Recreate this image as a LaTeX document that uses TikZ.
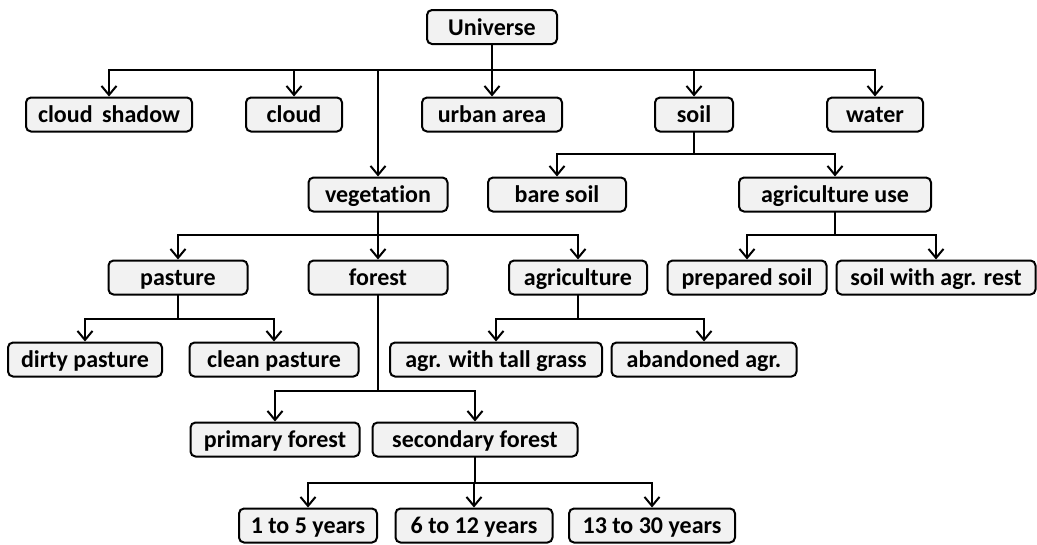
\documentclass[tikz,border=0pt]{standalone}
\usepackage{fontspec}
\setmainfont{Carlito}[Ligatures={NoCommon}]
\usetikzlibrary{arrows.meta}
\definecolor{boxfill}{HTML}{F2F2F2}
\tikzset{
  box/.style={draw=black, line width=2pt, rounded corners=5pt, fill=boxfill,
    minimum height=34pt, inner sep=0pt, text height=20pt, text depth=4pt,
    font=\fontsize{24}{28}\selectfont\bfseries},
  arr/.style={line width=2pt, -{Straight Barb[length=9pt,width=15pt]}},
  ln/.style={line width=2pt, line cap=rect}
}
\begin{document}
\begin{tikzpicture}[x=1pt,y=-1pt]
\useasboundingbox (0,0) rectangle (1037,544);
% nodes
\node[box, minimum width=130pt] (U) at (492,27) {Universe};
\node[box, minimum width=166pt] (cs) at (109,114.5) {cloud\, shadow};
\node[box, minimum width=96pt] (cl) at (294,114.5) {cloud};
\node[box, minimum width=140pt] (ua) at (492,114.5) {urban area};
\node[box, minimum width=78pt] (so) at (694,114.5) {soil};
\node[box, minimum width=96pt] (wa) at (875,114.5) {water};
\node[box, minimum width=139pt] (ve) at (378,194.5) {vegetation};
\node[box, minimum width=138pt] (bs) at (557,194.5) {bare soil};
\node[box, minimum width=192pt] (au) at (835,194.5) {agriculture use};
\node[box, minimum width=139pt] (pa) at (178,277.5) {pasture};
\node[box, minimum width=139pt] (fo) at (378,277.5) {forest};
\node[box, minimum width=138pt] (ag) at (578,277.5) {agriculture};
\node[box, minimum width=159pt] (ps) at (747,277.5) {prepared soil};
\node[box, minimum width=199pt] (sw) at (936,277.5) {soil with agr. rest};
\node[box, minimum width=154pt] (dp) at (85,359.5) {dirty pasture};
\node[box, minimum width=169pt] (cp) at (274,359.5) {clean pasture};
\node[box, minimum width=212pt] (at) at (496,359.5) {agr. with tall grass};
\node[box, minimum width=185pt] (ab) at (704,359.5) {abandoned agr.};
\node[box, minimum width=169pt] (pf) at (275,439.5) {primary forest};
\node[box, minimum width=205pt] (sf) at (475,439.5) {secondary forest};
\node[box, minimum width=138pt] (y1) at (308,525.5) {1 to 5 years};
\node[box, minimum width=157pt] (y2) at (474,525.5) {6 to 12 years};
\node[box, minimum width=166pt] (y3) at (652,525.5) {13 to 30 years};
% bus levels
\coordinate (bU) at (0,70);
\coordinate (bS) at (0,154);
\coordinate (bV) at (0,235);
\coordinate (bP) at (0,319);
\coordinate (bF) at (0,391);
\coordinate (bSF) at (0,483);
% stems and buses (drawn once)
\draw[ln] (U.south) -- (U.south |- bU);
\draw[ln] (cs.north |- bU) -- (wa.north |- bU);
\draw[ln] (so.south) -- (so.south |- bS);
\draw[ln] (bs.north |- bS) -- (au.north |- bS);
\draw[ln] (ve.south) -- (ve.south |- bV);
\draw[ln] (pa.north |- bV) -- (ag.north |- bV);
\draw[ln] (au.south) -- (au.south |- bV);
\draw[ln] (ps.north |- bV) -- (sw.north |- bV);
\draw[ln] (pa.south) -- (pa.south |- bP);
\draw[ln] (dp.north |- bP) -- (cp.north |- bP);
\draw[ln] (ag.south) -- (ag.south |- bP);
\draw[ln] (at.north |- bP) -- (ab.north |- bP);
\draw[ln] (fo.south) -- (fo.south |- bF);
\draw[ln] (pf.north |- bF) -- (sf.north |- bF);
\draw[ln] (sf.south) -- (sf.south |- bSF);
\draw[ln] (y1.north |- bSF) -- (y3.north |- bSF);
% arrows into children
\foreach \c in {cs,cl,ua,so,wa,ve}
  \draw[arr] (\c.north |- bU) -- (\c.north);
\foreach \c in {bs,au}
  \draw[arr] (\c.north |- bS) -- (\c.north);
\foreach \c in {pa,fo,ag,ps,sw}
  \draw[arr] (\c.north |- bV) -- (\c.north);
\foreach \c in {dp,cp,at,ab}
  \draw[arr] (\c.north |- bP) -- (\c.north);
\foreach \c in {pf,sf}
  \draw[arr] (\c.north |- bF) -- (\c.north);
\foreach \c in {y1,y2,y3}
  \draw[arr] (\c.north |- bSF) -- (\c.north);
\end{tikzpicture}
\end{document}
